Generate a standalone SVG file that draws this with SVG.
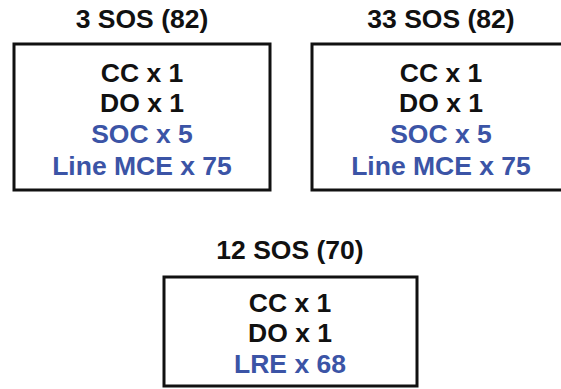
<svg xmlns="http://www.w3.org/2000/svg" width="561" height="389" viewBox="0 0 561 389">
<style>
.box{fill:#fff;stroke:#111;stroke-width:3}
text{font-family:"Liberation Sans",Arial,sans-serif;font-weight:bold;font-size:26.5px;text-anchor:middle;fill:#111}
.b{fill:#3b54a6}
</style>
<rect width="561" height="389" fill="#fff"/>
<g id="node-3sos">
<text x="142" y="28">3 SOS (82)</text>
<rect class="box" x="14" y="44" width="256" height="146"/>
<text x="142" y="82">CC x 1</text>
<text x="142" y="112">DO x 1</text>
<text class="b" x="142" y="143">SOC x 5</text>
<text class="b" x="142" y="175">Line MCE x 75</text>
</g>
<g id="node-33sos">
<text x="441" y="28">33 SOS (82)</text>
<rect class="box" x="312" y="44" width="258" height="146"/>
<text x="441" y="82">CC x 1</text>
<text x="441" y="112">DO x 1</text>
<text class="b" x="441" y="143">SOC x 5</text>
<text class="b" x="441" y="175">Line MCE x 75</text>
</g>
<g id="node-12sos">
<text x="290" y="259">12 SOS (70)</text>
<rect class="box" x="164" y="277" width="253" height="109"/>
<text x="290" y="312">CC x 1</text>
<text x="290" y="342">DO x 1</text>
<text class="b" x="290" y="373">LRE x 68</text>
</g>
<g id="connectors"></g>
</svg>
